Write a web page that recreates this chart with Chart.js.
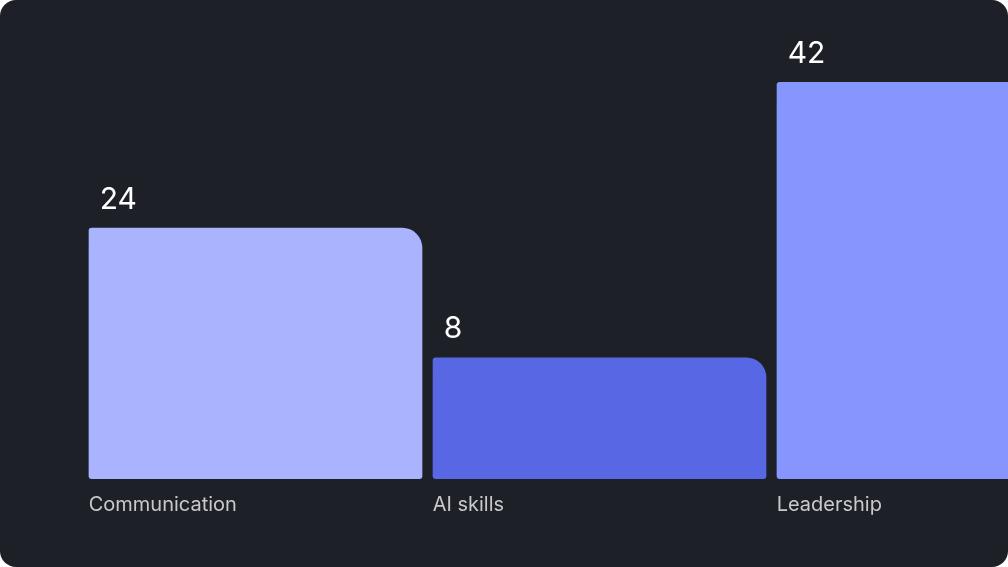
<!DOCTYPE html>
<html>
<head>
<meta charset="utf-8">
<script src="https://cdn.jsdelivr.net/npm/chart.js@4"></script>
<style>
  html, body { margin: 0; padding: 0; background: #ffffff; }
  #card {
    width: 1008px; height: 567px;
    background: #1e2028;
    border-radius: 16px;
    overflow: hidden;
    position: relative;
  }
  #card canvas { position: absolute; left: 0; top: 0; }
</style>
</head>
<body>
<div id="card">
  <canvas id="myChart" width="1120" height="567" style="width:1120px;height:567px"></canvas>
</div>
<script>
// chart data
const categories = ['Communication', 'AI skills', 'Leadership'];
const values = [24, 8, 42];
const barColors = ['#a9b3fe', '#5867e4', '#8796ff'];
const yMin = -7;
const yMax = 42;

// Wait for the DOM to fully load
document.addEventListener("DOMContentLoaded", function () {
  const ctx = document.getElementById('myChart').getContext('2d');

  // values above the bars, names below them, both left aligned to the bar
  const barLabels = {
    id: 'barLabels',
    afterDatasetsDraw(chart) {
      const c = chart.ctx;
      const meta = chart.getDatasetMeta(0);
      c.save();
      c.textAlign = 'left';
      c.textBaseline = 'alphabetic';
      meta.data.forEach(function (bar, i) {
        const left = bar.x - bar.width / 2;
        c.fillStyle = '#ffffff';
        c.font = '400 30px Inter, "Noto Sans", sans-serif';
        c.fillText(String(values[i]), left + 11, bar.y - 19);
        c.fillStyle = '#c8c9ce';
        c.font = '400 20px Inter, "Noto Sans", sans-serif';
        c.fillText(categories[i], left, bar.base + 32);
      });
      c.restore();
    }
  };

  new Chart(ctx, {
    type: 'bar',
    data: {
      labels: categories,
      datasets: [{
        data: values,
        base: yMin,
        backgroundColor: barColors,
        borderWidth: 0,
        borderSkipped: false,
        borderRadius: { topLeft: 3, topRight: 20, bottomLeft: 3, bottomRight: 3 },
        barPercentage: 1,
        categoryPercentage: 0.97
      }]
    },
    options: {
      responsive: false,
      animation: false,
      layout: {
        padding: { left: 83.5, right: 4.5, top: 82, bottom: 88 }
      },
      plugins: {
        legend: { display: false },
        tooltip: { enabled: false }
      },
      scales: {
        x: { display: false },
        y: { display: false, min: yMin, max: yMax }
      }
    },
    plugins: [barLabels]
  });
});
</script>
</body>
</html>
